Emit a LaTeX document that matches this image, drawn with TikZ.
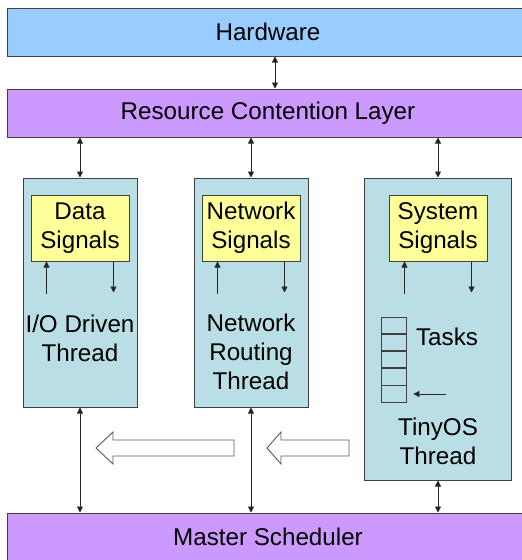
\documentclass[tikz,border=0pt]{standalone}
\usepackage{fontspec}
\setmainfont{Liberation Sans}
\usetikzlibrary{arrows.meta,calc,positioning}
\definecolor{hwblue}{HTML}{99CCFF}
\definecolor{layerpurple}{HTML}{CC99FF}
\definecolor{threadteal}{HTML}{B9DEE6}
\definecolor{sigyellow}{HTML}{FFFF99}
\definecolor{edgegray}{HTML}{404040}
\begin{document}
\begin{tikzpicture}[x=1pt,y=-1pt,
  font=\fontsize{24.2}{29}\selectfont,
  box/.style={draw=edgegray, line width=1pt, inner sep=0pt, align=center},
  layerbox/.style={box, minimum width=522pt, minimum height=48pt},
  threadbox/.style={box, fill=threadteal},
  sigbox/.style={box, fill=sigyellow, minimum width=98pt, minimum height=66pt},
  lbl/.style={inner sep=0pt, align=center},
  cell/.style={draw=edgegray, line width=0.8pt, minimum width=25pt, minimum height=16.4pt, inner sep=0pt, fill=threadteal},
  biarrow/.style={line width=0.9pt, draw=black!85, {Triangle[length=6pt,width=6pt]}-{Triangle[length=6pt,width=6pt]}},
  onearrow/.style={line width=0.9pt, draw=black!85, -{Triangle[length=6pt,width=6pt]}},
  blockarrow/.style={draw=black!65, line width=0.9pt, fill=white, line join=miter}]
\useasboundingbox (0,0) rectangle (522,560);
\clip (0,0) rectangle (522,560);
\fill[white] (0,0) rectangle (522,560);

% layers
\node[layerbox, fill=hwblue] (hw) at (268,32) {Hardware};
\node[layerbox, fill=layerpurple] (rcl) at (268,113) {Resource Contention Layer};
\node[layerbox, fill=layerpurple] (ms) at (268,537) {Master Scheduler};

% threads
\node[threadbox, minimum width=114pt, minimum height=229pt] (t1) at (80,292.5) {};
\node[threadbox, minimum width=114pt, minimum height=229pt] (t2) at (251,292.5) {};
\node[threadbox, minimum width=147pt, minimum height=302pt] (t3) at (437.5,329) {};

% signal boxes
\node[sigbox] (y1) at (80,228) {Data\\Signals};
\node[sigbox] (y2) at (251,228) {Network\\Signals};
\node[sigbox] (y3) at (438,228) {System\\Signals};

% thread labels
\node[lbl] (l1) at (80,338) {I/O Driven\\Thread};
\node[lbl] (l2) at (251,352) {Network\\Routing\\Thread};
\node[lbl] (l3) at (438,441.5) {TinyOS\\Thread};
\node[lbl] (tasks) at (447,337) {Tasks};

% task stack
\node[cell] (s1) at (393.5,325.2) {};
\node[cell, below=0pt of s1] (s2) {};
\node[cell, below=0pt of s2] (s3) {};
\node[cell, below=0pt of s3] (s4) {};
\node[cell, below=0pt of s4] (s5) {};

% connectors between layers
\coordinate (xh) at (275,0);
\draw[biarrow] (hw.south -| xh) -- (rcl.north -| xh);
\draw[biarrow] (rcl.south -| t1.north) -- (t1.north);
\draw[biarrow] (rcl.south -| t2.north) -- (t2.north);
\draw[biarrow] (rcl.south -| y3.north) -- (t3.north -| y3.north);
\draw[biarrow] (t1.south) -- (ms.north -| t1.south);
\draw[biarrow] (t2.south) -- (ms.north -| t2.south);
\draw[biarrow] (t3.south -| y3.north) -- (ms.north -| y3.north);

% signal arrows
\foreach \y in {y1,y2,y3}{
  \coordinate (\y up) at ($(\y.south west)+(16,32)$);
  \coordinate (\y dn) at ($(\y.south east)+(-16,31)$);
  \draw[onearrow] (\y up) -- (\y up |- \y.south);
  \draw[onearrow] (\y dn |- \y.south) -- (\y dn);
}

% task arrow
\coordinate (tstart) at ($(s5.east)+(40,0)$);
\draw[onearrow] (tstart) -- ($(s5.east)+(7,0)$);

% block arrows
\draw[blockarrow] (96,448) -- (113,432) -- (113,440) -- (234,440) -- (234,456) -- (113,456) -- (113,464) -- cycle;
\draw[blockarrow] (267,448) -- (281,432) -- (281,440) -- (349,440) -- (349,456) -- (281,456) -- (281,464) -- cycle;
\end{tikzpicture}
\end{document}
